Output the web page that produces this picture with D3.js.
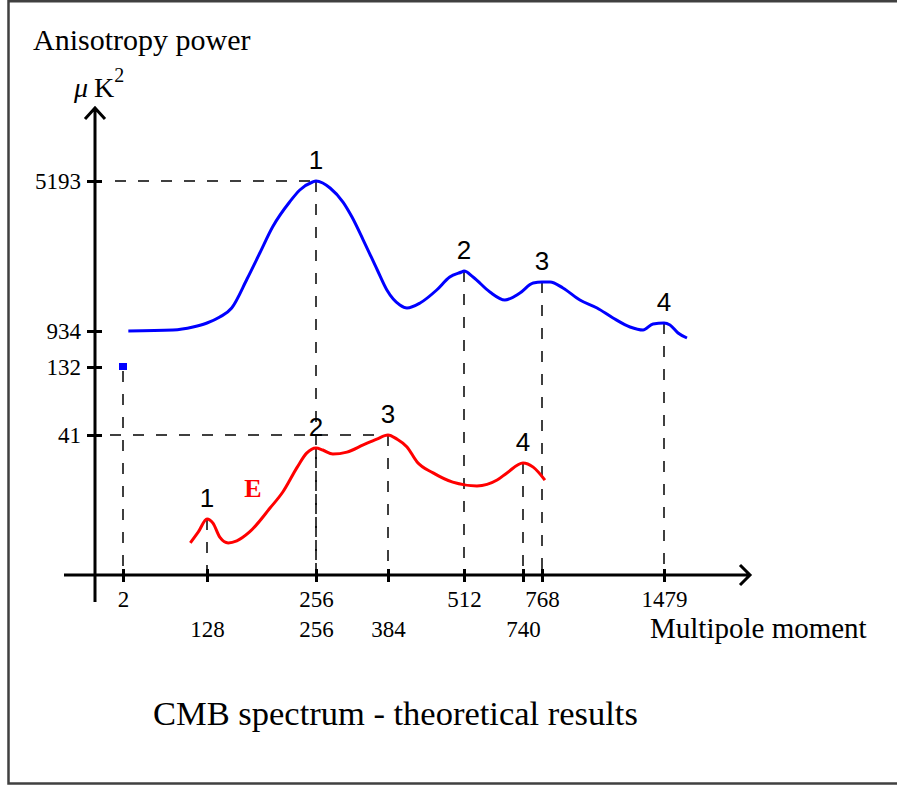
<!DOCTYPE html>
<html>
<head>
<meta charset="utf-8">
<script src="https://cdn.jsdelivr.net/npm/d3@7"></script>
<style>
  body { margin: 0; background: #fff; overflow: hidden; }
  svg { display: block; }
  text { font-family: "Liberation Serif", "Times New Roman", serif; fill: #000; }
</style>
</head>
<body>
<script>
'use strict';

// tick values (multipole moment / power in uK^2)
var xTicksTop = [2, 256, 512, 768, 1479];
var xTicksBottom = [128, 256, 384, 740];
var yTicks = [41, 132, 934, 5193];

// temperature spectrum (blue)
var blueCurve = [
  [10, 934], [77, 962], [107, 1048], [128, 1161], [143, 1331], [157, 1587],
  [175, 2410], [190, 3148], [205, 3887], [225, 4596], [237, 4937],
  [252, 5164], [256, 5193], [268, 5136], [281, 4994], [304, 4596], [320, 4170],
  [340, 3517], [365, 2666], [382, 2098], [404, 1672], [416, 1587], [438, 1729],
  [466, 2098], [488, 2467], [508, 2609], [512, 2637], [547, 2467], [612, 2041],
  [670, 1814], [728, 2013], [755, 2297], [768, 2325], [815, 2325], [890, 2155],
  [989, 1814], [1089, 1587], [1182, 1303], [1281, 1048], [1357, 962], [1415, 1133],
  [1479, 1161], [1514, 1104], [1561, 890], [1613, 778]
];

// E polarisation spectrum (red)
var redCurve = [
  [103, 9.4], [115, 12.6], [128, 16.4], [135, 15.2], [143, 11.1], [153, 9.4],
  [163, 10.0], [178, 12.6], [202, 19.6], [217, 24.3], [234, 31.6], [245, 35.7],
  [256, 37.2], [268, 36.6], [286, 35.4], [311, 36.0], [340, 38.1], [364, 39.8],
  [384, 41], [399, 39.8], [416, 37.5], [433, 33.1], [460, 29.9], [493, 27.2],
  [562, 26.1], [640, 27.8], [678, 29.9], [740, 32.8], [755, 31.6], [785, 27.8]
];

var bluePeaks = [[256, 5193], [512, 2637], [768, 2325], [1479, 1161]];
var redPeaks = [[128, 16.4], [256, 37.2], [384, 41], [740, 32.8]];
var lowPoint = [2, 132];
var redName = { text: 'E', at: [182, 22.8] };

var titleText = 'CMB spectrum - theoretical results';

var width = 897, height = 785;
var originX = 95, originY = 575, axisTop = 108, axisRight = 750;

var svg = d3.select('body')
    .append('svg')
    .attr('width', width)
    .attr('height', height);

// frame: left, top and bottom edges only
svg.append('path')
    .attr('d', 'M' + width + ',1.2H8.5V783.5H' + width)
    .attr('fill', 'none')
    .attr('stroke', '#404040')
    .attr('stroke-width', 2.5);

// the picture is a sketch: ticks are placed by hand, so the scales are piecewise
var xDomain = d3.sort(d3.union(xTicksTop, xTicksBottom));
var x = d3.scaleLinear()
    .domain(xDomain)
    .range([123, 207, 316, 388, 464, 523, 542, 664]);

var y = d3.scaleLinear()
    .domain([0].concat(yTicks))
    .range([originY, 435, 367, 331, 181]);

var dash = '11,12';

function guide(x1, y1, x2, y2) {
    svg.append('line')
        .attr('x1', x1).attr('y1', y1)
        .attr('x2', x2).attr('y2', y2)
        .attr('stroke', '#000')
        .attr('stroke-width', 1.5)
        .attr('stroke-dasharray', dash);
}

// dashed guides
var blueTop = bluePeaks[d3.maxIndex(bluePeaks, function (d) { return d[1]; })];
var redTop = redPeaks[d3.maxIndex(redPeaks, function (d) { return d[1]; })];
guide(115, y(blueTop[1]), x(blueTop[0]), y(blueTop[1]));
guide(110, y(redTop[1]), x(redTop[0]), y(redTop[1]));

bluePeaks.concat(redPeaks).forEach(function (d) {
    guide(x(d[0]), y(d[1]), x(d[0]), originY);
});
guide(x(lowPoint[0]), y(lowPoint[1]) + 4, x(lowPoint[0]), originY);

// axes lines with arrows
svg.append('path')
    .attr('d', 'M' + originX + ',602V' + axisTop +
               'M' + (originX - 10) + ',' + (axisTop + 11) + 'L' + originX + ',' + axisTop +
               'L' + (originX + 10) + ',' + (axisTop + 11))
    .attr('fill', 'none').attr('stroke', '#000').attr('stroke-width', 3);

svg.append('path')
    .attr('d', 'M64,' + originY + 'H' + axisRight +
               'M' + (axisRight - 10) + ',' + (originY - 10) + 'L' + axisRight + ',' + originY +
               'L' + (axisRight - 10) + ',' + (originY + 10))
    .attr('fill', 'none').attr('stroke', '#000').attr('stroke-width', 3);

// y axis ticks
var yAxis = svg.append('g')
    .attr('transform', 'translate(' + originX + ',0)')
    .call(d3.axisLeft(y).tickValues(yTicks).tickSizeOuter(0).tickFormat(d3.format('d')));
yAxis.select('.domain').remove();
yAxis.attr('font-family', null).attr('font-size', null);
yAxis.selectAll('.tick line')
    .attr('x1', -8).attr('x2', 7)
    .attr('stroke', '#000').attr('stroke-width', 3);
yAxis.selectAll('.tick text')
    .attr('x', -14)
    .style('font-size', '23px');

// x axis ticks, two label rows
function xRow(values, labelY) {
    var g = svg.append('g')
        .attr('transform', 'translate(0,' + originY + ')')
        .call(d3.axisBottom(x).tickValues(values).tickSizeOuter(0).tickFormat(d3.format('d')));
    g.select('.domain').remove();
    g.attr('font-family', null).attr('font-size', null);
    g.selectAll('.tick line')
        .attr('y1', -6).attr('y2', 7)
        .attr('stroke', '#000').attr('stroke-width', 3);
    g.selectAll('.tick text')
        .attr('y', labelY).attr('dy', null)
        .style('font-size', '23px');
}
xRow(xTicksTop, 32);
xRow(xTicksBottom, 62);

// curves
var line = d3.line()
    .x(function (d) { return x(d[0]); })
    .y(function (d) { return y(d[1]); })
    .curve(d3.curveMonotoneX);

svg.append('path')
    .datum(blueCurve)
    .attr('d', line)
    .attr('fill', 'none')
    .attr('stroke', '#0000ff')
    .attr('stroke-width', 3)
    .attr('stroke-linejoin', 'round');

svg.append('path')
    .datum(redCurve)
    .attr('d', line)
    .attr('fill', 'none')
    .attr('stroke', '#ff0000')
    .attr('stroke-width', 3)
    .attr('stroke-linejoin', 'round');

svg.append('rect')
    .attr('x', x(lowPoint[0]) - 4)
    .attr('y', y(lowPoint[1]) - 4)
    .attr('width', 8).attr('height', 7)
    .attr('fill', '#0000ff');

// peak numbers
function peakLabels(peaks) {
    svg.selectAll(null)
        .data(peaks)
        .enter()
        .append('text')
        .attr('x', function (d) { return x(d[0]); })
        .attr('y', function (d) { return y(d[1]) - 12; })
        .attr('text-anchor', 'middle')
        .style('font-family', '"Liberation Sans", Arial, sans-serif')
        .style('font-size', '26px')
        .text(function (d, i) { return i + 1; });
}
peakLabels(bluePeaks);
peakLabels(redPeaks);

svg.append('text')
    .attr('x', x(redName.at[0]))
    .attr('y', y(redName.at[1]))
    .attr('text-anchor', 'middle')
    .style('font-size', '26px')
    .style('font-weight', 'bold')
    .style('fill', '#ff0000')
    .text(redName.text);

// axis titles
svg.append('text')
    .attr('x', 33).attr('y', 50)
    .style('font-size', '30px')
    .text('Anisotropy power');

var unit = svg.append('text')
    .attr('x', 74).attr('y', 97)
    .style('font-size', '28px');
unit.append('tspan').style('font-style', 'italic').text('\u03bc');
unit.append('tspan').attr('dx', 6).text('K');
unit.append('tspan').attr('dy', -15).style('font-size', '20px').text('2');

svg.append('text')
    .attr('x', 650).attr('y', 638)
    .style('font-size', '29px')
    .text('Multipole moment');

svg.append('text')
    .attr('x', 153).attr('y', 725)
    .style('font-size', '34.5px')
    .text(titleText);
</script>
</body>
</html>
